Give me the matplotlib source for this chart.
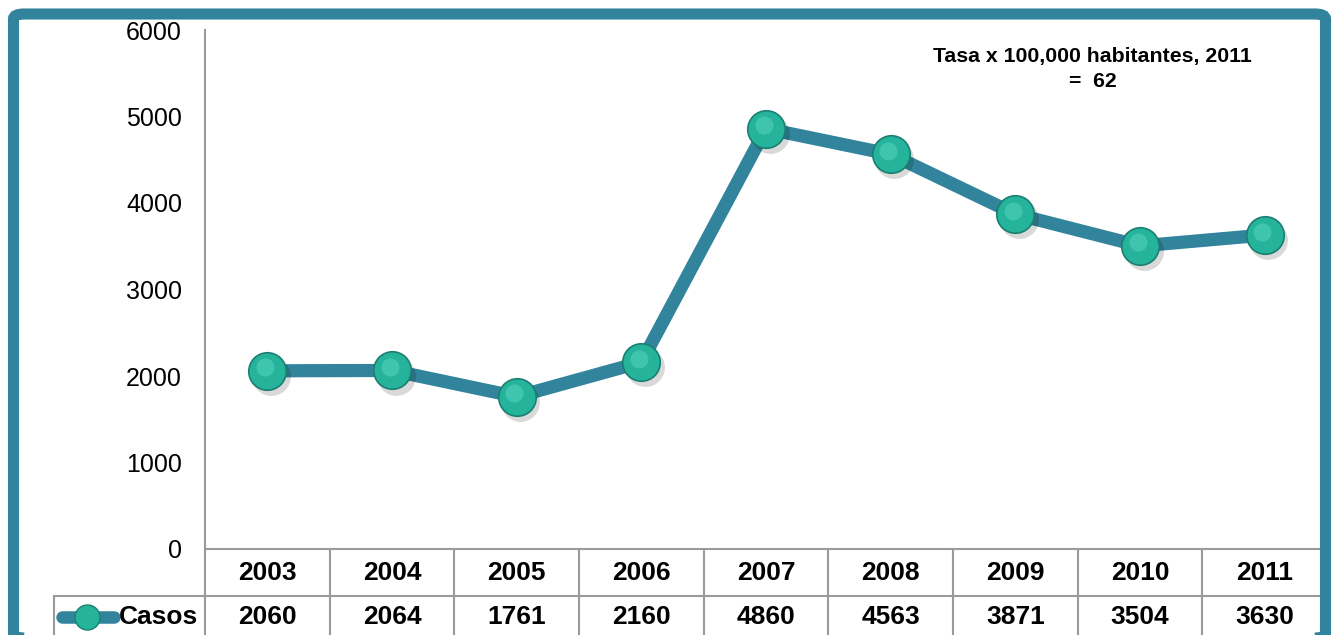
import matplotlib.pyplot as plt
from matplotlib.patches import FancyBboxPatch
from matplotlib.lines import Line2D
from matplotlib.transforms import blended_transform_factory

plt.rcParams['font.family'] = ['Liberation Sans', 'DejaVu Sans']

years = ["2003", "2004", "2005", "2006", "2007", "2008", "2009", "2010", "2011"]
casos = [2060, 2064, 1761, 2160, 4860, 4563, 3871, 3504, 3630]
serie = "Casos"
nota = "Tasa x 100,000 habitantes, 2011\n=  62"

W, H = 1335, 635
line_col = "#31849B"
ball_col = "#25B39C"
grid_col = "#9A9A9A"

fig = plt.figure(figsize=(W / 100, H / 100), dpi=100)


def px(x, y):
    # pixel coords (top-left origin) -> figure fraction
    return x / W, 1 - y / H


# outer teal frame (bottom edge only just shows at the picture's foot)
frame = FancyBboxPatch(px(13.5, 638), 1312 / W, 624 / H, boxstyle="round,pad=0,rounding_size=0.008",
                       transform=fig.transFigure, fill=False, edgecolor=line_col, linewidth=8,
                       zorder=10)
fig.add_artist(frame)

x0, x1, ytop, ybot = 205, 1327, 30, 549
ax = fig.add_axes([x0 / W, 1 - ybot / H, (x1 - x0) / W, (ybot - ytop) / H])
xs = list(range(len(years)))

ax.plot(xs, casos, color=line_col, linewidth=9.5, solid_capstyle="round", zorder=2)
# shadow, ball, highlight
ax.plot([x + 0.03 for x in xs], [c - 60 for c in casos], "o", ms=28, color="#000000", alpha=0.15,
        markeredgewidth=0, zorder=3)
ax.plot(xs, casos, "o", ms=27, markerfacecolor=ball_col, markeredgecolor="#1B7F72",
        markeredgewidth=1.2, zorder=4)
ax.plot([x - 0.02 for x in xs], [c + 40 for c in casos], "o", ms=13, markerfacecolor="#4FD1BC",
        markeredgewidth=0, alpha=0.6, zorder=5)

ax.set_xlim(0 - 0.5, len(years) - 0.5)
ax.set_ylim(0, 6000)
ax.set_yticks(range(0, 6001, 1000))
ax.tick_params(axis="y", length=0, labelsize=18, pad=16.5)
ax.tick_params(axis="x", bottom=False, labelbottom=False)
for s in ["top", "right", "bottom"]:
    ax.spines[s].set_visible(False)
ax.spines["left"].set_color(grid_col)
ax.spines["left"].set_linewidth(1.5)

ax.text(6.62, 5550, nota, ha="center", va="center", fontsize=15.3, fontweight="bold",
        linespacing=1.4)

# data table under the plot
tr = blended_transform_factory(ax.transData, fig.transFigure)
row1_top, row2_top, row2_bot = 1 - 549 / H, 1 - 596 / H, 1 - 640 / H
n = len(years)
fig.add_artist(Line2D([-0.5, n - 0.5], [row1_top, row1_top], transform=tr, color=grid_col, lw=1.5))
fig.add_artist(Line2D([54 / W, x1 / W], [row2_top, row2_top], transform=fig.transFigure,
                      color=grid_col, lw=1.5))
fig.add_artist(Line2D([54 / W, 54 / W], [row2_top, row2_bot], transform=fig.transFigure,
                      color=grid_col, lw=1.5))
ly = 1 - 617 / H
for i in range(n):
    xb = i - 0.5
    fig.add_artist(Line2D([xb, xb], [row1_top, row2_bot], transform=tr, color=grid_col, lw=1.5))
    fig.text(i, 1 - 573 / H, years[i], transform=tr, ha="center", va="center",
             fontsize=19, fontweight="bold")
    fig.text(i, ly, f"{casos[i]}", transform=tr, ha="center",
             va="center", fontsize=19, fontweight="bold")

fig.add_artist(Line2D([62 / W, 114 / W], [ly, ly], transform=fig.transFigure, color=line_col,
                      lw=9, solid_capstyle="round"))
fig.add_artist(Line2D([87 / W], [ly], transform=fig.transFigure, marker="o", ms=18,
                      markerfacecolor=ball_col, markeredgecolor="#1B7F72", markeredgewidth=1))
fig.text(119 / W, ly, serie, ha="left", va="center", fontsize=19, fontweight="bold")

fig.savefig("out.png", dpi=100)
